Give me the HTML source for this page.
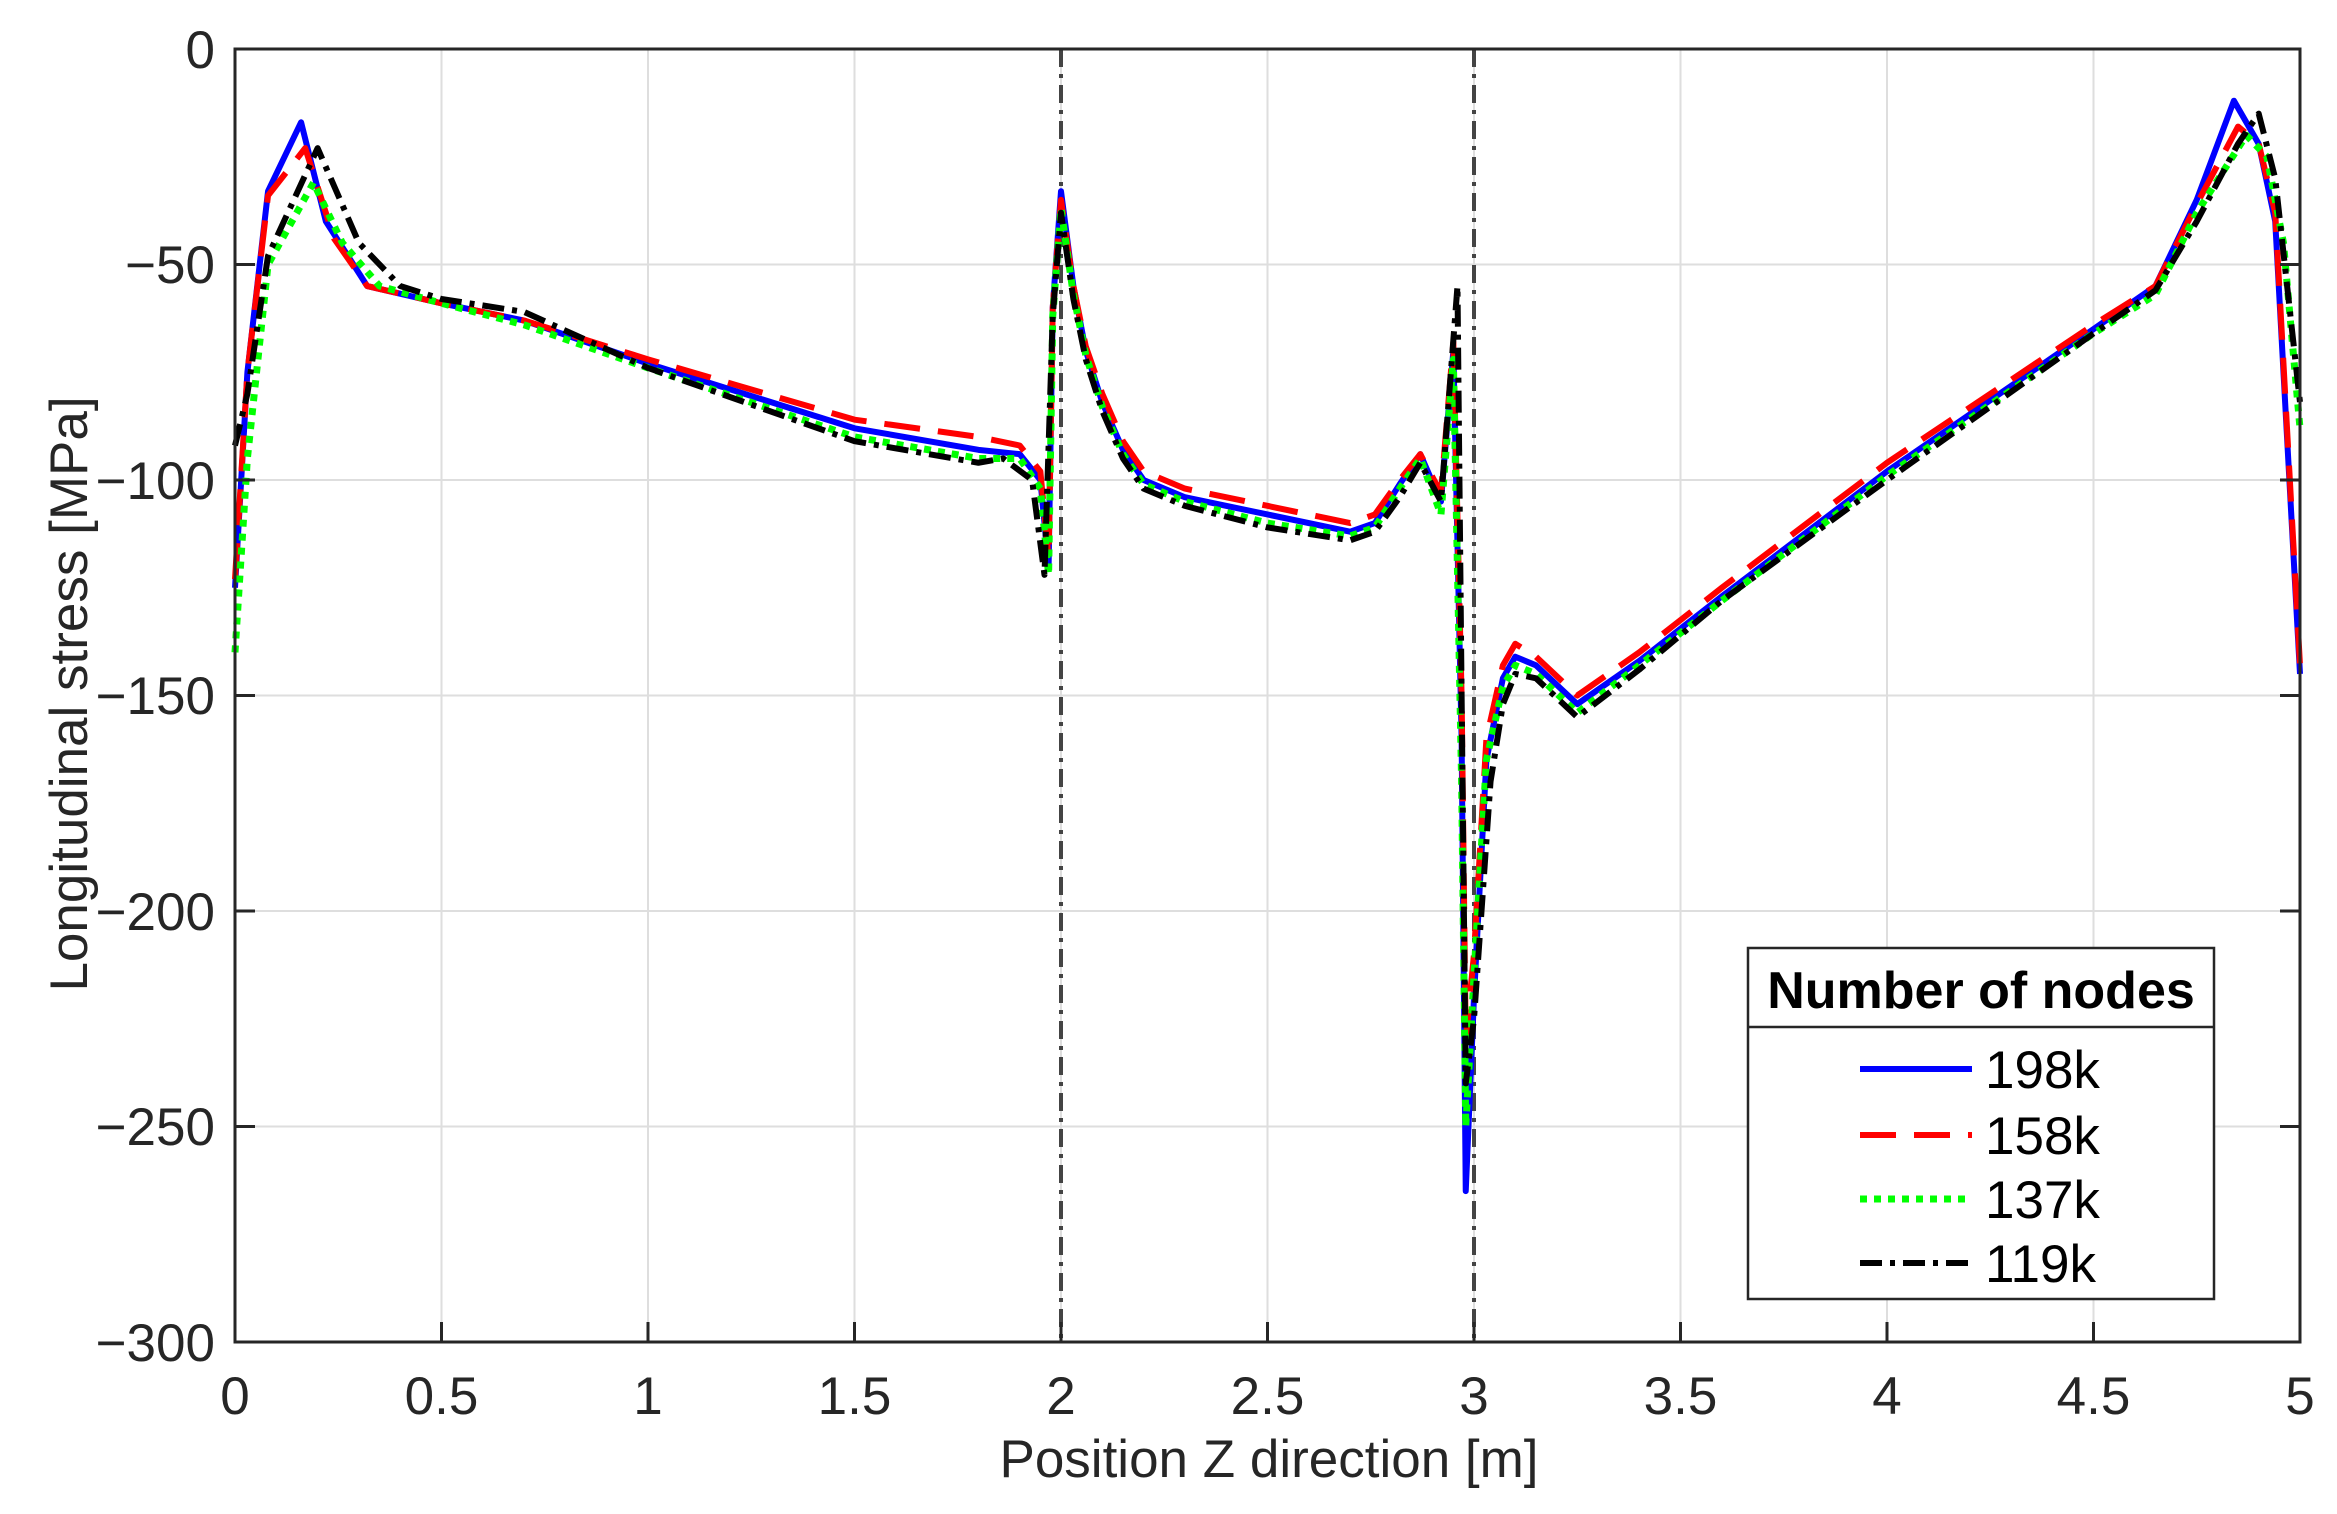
<!DOCTYPE html>
<html><head><style>body{margin:0;background:#fff}svg{display:block}text{font-family:"Liberation Sans",Arial,sans-serif;fill:#262626}</style></head>
<body>
<svg width="2337" height="1514" viewBox="0 0 2337 1514" xmlns="http://www.w3.org/2000/svg">
<g stroke="#dedede" stroke-width="2">
<line x1="441.5" y1="49" x2="441.5" y2="1342"/><line x1="648" y1="49" x2="648" y2="1342"/><line x1="854.5" y1="49" x2="854.5" y2="1342"/><line x1="1061" y1="49" x2="1061" y2="1342"/><line x1="1267.5" y1="49" x2="1267.5" y2="1342"/><line x1="1474" y1="49" x2="1474" y2="1342"/><line x1="1680.5" y1="49" x2="1680.5" y2="1342"/><line x1="1887" y1="49" x2="1887" y2="1342"/><line x1="2093.5" y1="49" x2="2093.5" y2="1342"/>
<line x1="235" y1="264.5" x2="2300" y2="264.5"/><line x1="235" y1="480" x2="2300" y2="480"/><line x1="235" y1="695.5" x2="2300" y2="695.5"/><line x1="235" y1="911" x2="2300" y2="911"/><line x1="235" y1="1126.5" x2="2300" y2="1126.5"/>
</g>
<g stroke="#444" stroke-width="4" stroke-dasharray="18,7,4,7">
<line x1="1061" y1="49" x2="1061" y2="1342"/><line x1="1474" y1="49" x2="1474" y2="1342"/>
</g>
<g fill="none" stroke-width="6" stroke-linejoin="round" transform="translate(235,49) scale(413,-4.31)">
<polyline vector-effect="non-scaling-stroke" stroke="#0000ff" points="0,-125 0.03,-75 0.08,-33 0.16,-17 0.22,-40 0.32,-55 0.5,-59 0.7,-63 1,-73 1.5,-88 1.8,-93 1.9,-94 1.95,-100 1.97,-120 1.98,-60 2,-33 2.03,-55 2.06,-70 2.1,-82 2.15,-93 2.2,-100 2.3,-104 2.5,-108 2.7,-112 2.76,-110 2.82,-101 2.87,-94 2.92,-105 2.95,-70 2.97,-160 2.98,-265 3,-220 3.03,-165 3.07,-146 3.1,-141 3.15,-143 3.25,-152 3.4,-142 3.6,-127 4,-98 4.5,-65 4.65,-55 4.75,-35 4.84,-12 4.9,-22 4.94,-40 5,-145"/>
<polyline vector-effect="non-scaling-stroke" stroke="#ff0000" stroke-dasharray="36,18" points="0,-123 0.03,-75 0.08,-34 0.17,-23 0.24,-44 0.32,-55 0.5,-59 0.7,-63 1,-72 1.5,-86 1.8,-90 1.9,-92 1.95,-98 1.97,-118 1.98,-60 2,-35 2.03,-55 2.06,-69 2.1,-80 2.15,-91 2.2,-98 2.3,-102 2.5,-106 2.7,-110 2.76,-108 2.82,-100 2.87,-94 2.92,-103 2.95,-68 2.97,-150 2.98,-230 3,-210 3.03,-160 3.07,-143 3.1,-138 3.15,-141 3.25,-150 3.4,-140 3.6,-125 4,-96 4.5,-64 4.65,-55 4.75,-36 4.85,-18 4.9,-22 4.94,-38 5,-143"/>
<polyline vector-effect="non-scaling-stroke" stroke="#00ff00" stroke-dasharray="7,7" stroke-width="7" points="0,-140 0.03,-95 0.08,-50 0.19,-31 0.26,-45 0.35,-55 0.5,-59 0.7,-64 1,-74 1.5,-90 1.8,-95 1.9,-95 1.95,-102 1.97,-122 1.98,-62 2,-37 2.03,-57 2.06,-71 2.1,-83 2.15,-94 2.2,-101 2.3,-105 2.5,-110 2.7,-113 2.76,-111 2.82,-102 2.87,-95 2.92,-108 2.95,-72 2.97,-170 2.98,-250 3,-215 3.03,-165 3.07,-148 3.1,-143 3.15,-145 3.25,-154 3.4,-143 3.6,-128 4,-99 4.5,-66 4.65,-57 4.75,-38 4.87,-20 4.92,-25 4.96,-45 5,-88"/>
<polyline vector-effect="non-scaling-stroke" stroke="#000" stroke-dasharray="22,8,5,8" points="0,-92 0.03,-80 0.08,-48 0.2,-23 0.3,-45 0.4,-55 0.5,-58 0.7,-61 1,-74 1.5,-91 1.8,-96 1.86,-95 1.93,-100 1.96,-122 1.98,-62 2,-38 2.03,-58 2.06,-72 2.1,-84 2.15,-95 2.2,-102 2.3,-106 2.5,-111 2.7,-114 2.76,-112 2.82,-104 2.87,-96 2.92,-105 2.96,-55 2.97,-150 2.98,-240 3,-225 3.04,-170 3.07,-152 3.1,-145 3.15,-146 3.25,-155 3.4,-144 3.6,-128 4,-100 4.5,-66 4.65,-56 4.75,-40 4.85,-22 4.9,-15 4.94,-30 5,-82"/>
</g>
<rect x="235" y="49" width="2065" height="1293" fill="none" stroke="#262626" stroke-width="3"/>
<g stroke="#262626" stroke-width="3">
<line x1="441.5" y1="1342" x2="441.5" y2="1322"/><line x1="648" y1="1342" x2="648" y2="1322"/><line x1="854.5" y1="1342" x2="854.5" y2="1322"/><line x1="1061" y1="1342" x2="1061" y2="1322"/><line x1="1267.5" y1="1342" x2="1267.5" y2="1322"/><line x1="1474" y1="1342" x2="1474" y2="1322"/><line x1="1680.5" y1="1342" x2="1680.5" y2="1322"/><line x1="1887" y1="1342" x2="1887" y2="1322"/><line x1="2093.5" y1="1342" x2="2093.5" y2="1322"/>
<line x1="235" y1="264.5" x2="255" y2="264.5"/><line x1="235" y1="480" x2="255" y2="480"/><line x1="235" y1="695.5" x2="255" y2="695.5"/><line x1="235" y1="911" x2="255" y2="911"/><line x1="235" y1="1126.5" x2="255" y2="1126.5"/>
<line x1="2300" y1="264.5" x2="2280" y2="264.5"/><line x1="2300" y1="480" x2="2280" y2="480"/><line x1="2300" y1="695.5" x2="2280" y2="695.5"/><line x1="2300" y1="911" x2="2280" y2="911"/><line x1="2300" y1="1126.5" x2="2280" y2="1126.5"/>
</g>
<g font-size="53" text-anchor="end">
<text x="215" y="68">0</text><text x="215" y="283">−50</text><text x="215" y="499">−100</text><text x="215" y="714">−150</text><text x="215" y="930">−200</text><text x="215" y="1145">−250</text><text x="215" y="1361">−300</text>
</g>
<g font-size="53" text-anchor="middle">
<text x="235" y="1414">0</text><text x="441.5" y="1414">0.5</text><text x="648" y="1414">1</text><text x="854.5" y="1414">1.5</text><text x="1061" y="1414">2</text><text x="1267.5" y="1414">2.5</text><text x="1474" y="1414">3</text><text x="1680.5" y="1414">3.5</text><text x="1887" y="1414">4</text><text x="2093.5" y="1414">4.5</text><text x="2300" y="1414">5</text>
<text x="1269" y="1477">Position Z direction [m]</text>
<text transform="translate(87,694) rotate(-90)">Longitudinal stress [MPa]</text>
</g>
<rect x="1748" y="948" width="466" height="351" fill="#fff" stroke="#262626" stroke-width="2.5"/>
<line x1="1748" y1="1027" x2="2214" y2="1027" stroke="#262626" stroke-width="2.5"/>
<text x="1981" y="1008" font-size="52" font-weight="bold" text-anchor="middle" style="fill:#000">Number of nodes</text>
<g stroke-width="6">
<line x1="1860" y1="1069" x2="1972" y2="1069" stroke="#0000ff"/>
<line x1="1860" y1="1135" x2="1972" y2="1135" stroke="#ff0000" stroke-dasharray="36,18"/>
<line x1="1860" y1="1199" x2="1972" y2="1199" stroke="#00ff00" stroke-width="7" stroke-dasharray="7,7"/>
<line x1="1860" y1="1263" x2="1972" y2="1263" stroke="#000" stroke-dasharray="22,8,5,8"/>
</g>
<g font-size="53">
<text x="1985" y="1088" style="fill:#000">198k</text><text x="1985" y="1154" style="fill:#000">158k</text><text x="1985" y="1218" style="fill:#000">137k</text><text x="1985" y="1282" style="fill:#000">119k</text>
</g>
</svg>
</body></html>
